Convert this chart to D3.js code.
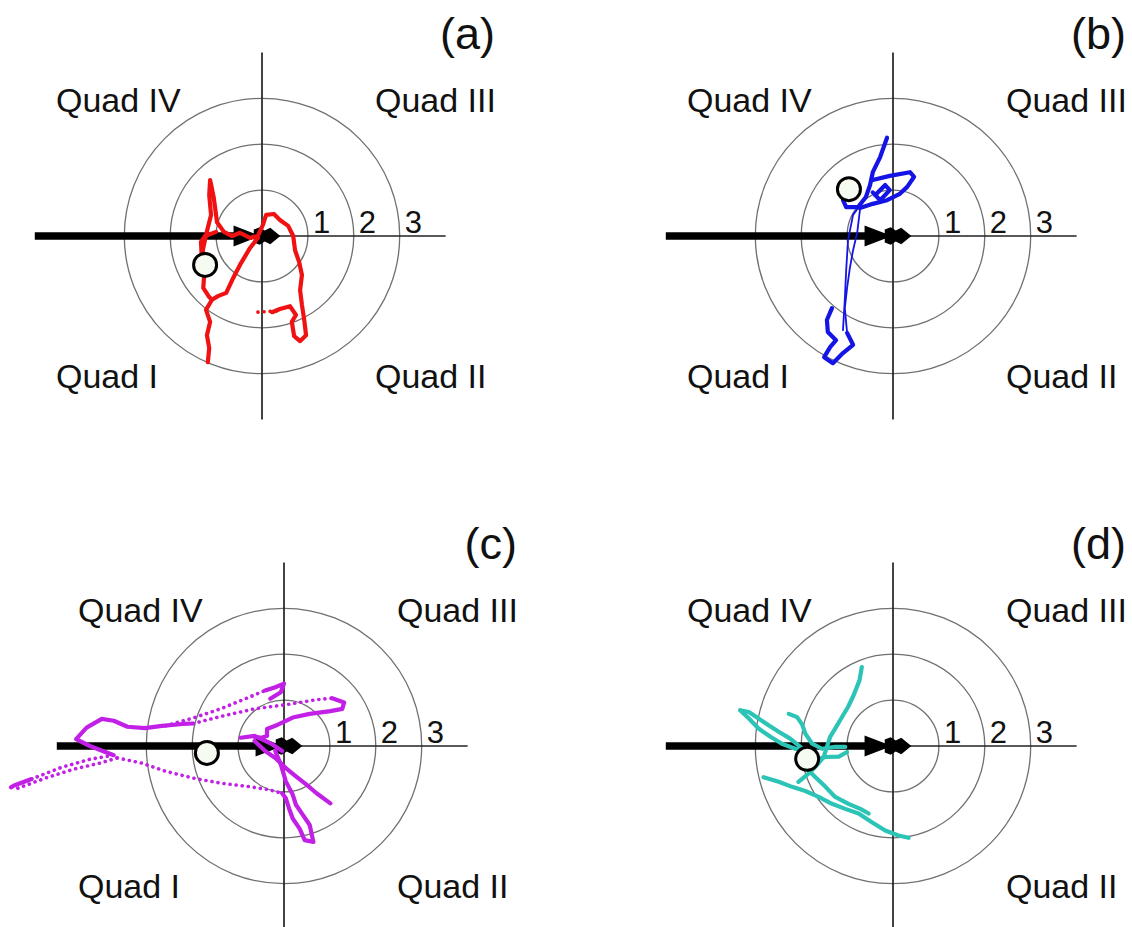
<!DOCTYPE html>
<html>
<head>
<meta charset="utf-8">
<script src="https://cdn.jsdelivr.net/npm/d3@7"></script>
<style>
  body { margin: 0; background: #fff; }
  text { font-family: "Liberation Sans", Arial, sans-serif; fill: #111; }
</style>
</head>
<body>
<div id="chart"></div>
<script>
// rings of the polar target and their labels
const ringValues = [1, 2, 3];
const panelLabels = ['(a)', '(b)', '(c)', '(d)'];

// quadrant names shown in each panel (panel d has no "Quad I")
const quadsA = ['Quad IV', 'Quad III', 'Quad I', 'Quad II'];
const quadsB = ['Quad IV', 'Quad III', 'Quad I', 'Quad II'];
const quadsC = ['Quad IV', 'Quad III', 'Quad I', 'Quad II'];
const quadsD = ['Quad IV', 'Quad III', null, 'Quad II'];

// start positions (open circle), in ring units
const startA = [-1.24, -0.63];
const startB = [-0.96, 1.02];
const startC = [-1.68, -0.15];
const startD = [-1.87, -0.28];

// trajectories, ring units, one list of points per stroke
const pathA = [
  { kind: 'solid', pts: [[-1.24, -0.63], [-1.29, -0.31], [-1.22, 0.02], [-1.11, 0.46], [-1.15, 0.89], [-1.13, 1.22],
    [-1.05, 0.83], [-0.98, 0.30], [-0.83, 0.09], [-0.65, 0], [-0.48, 0.07], [-0.26, -0.04], [-0.09, 0],
    [0.02, 0.24], [0.09, 0.46], [0.26, 0.48], [0.39, 0.35], [0.57, 0.22], [0.68, 0], [0.72, -0.31],
    [0.81, -0.57], [0.87, -0.85], [0.83, -1.18], [0.87, -1.50], [0.92, -1.83], [0.96, -2.16], [0.83, -2.29],
    [0.70, -2.18], [0.65, -1.87], [0.74, -1.72], [0.61, -1.53], [0.39, -1.59], [0.22, -1.66]] },
  { kind: 'dots', pts: [[0.22, -1.66], [0.33, -1.63], [-0.11, -1.66]] },
  { kind: 'solid', pts: [[-1.00, 0.09], [-1.24, 0.0], [-1.33, -0.13], [-1.31, -0.50], [-1.26, -0.87], [-1.28, -1.13],
    [-1.15, -1.33], [-1.09, -1.39], [-1.22, -1.61], [-1.13, -1.87], [-1.20, -2.16], [-1.15, -2.44], [-1.18, -2.75]] },
  { kind: 'solid', pts: [[-0.09, -0.04], [-0.26, -0.26], [-0.48, -0.63], [-0.65, -0.96], [-0.78, -1.24],
    [-0.96, -1.31], [-1.09, -1.39]] }
];

const pathB = [
  { kind: 'solid', pts: [[-0.13, 2.14], [-0.28, 1.72], [-0.44, 1.39], [-0.50, 1.11], [-0.59, 0.85], [-0.76, 0.63],
    [-1.02, 0.63], [-1.09, 0.78]] },
  { kind: 'solid', pts: [[-0.44, 1.22], [-0.07, 1.31], [0.37, 1.39], [0.46, 1.29], [0.31, 1.07], [0.15, 0.92],
    [-0.13, 0.78], [-0.44, 0.70], [-0.72, 0.61]] },
  { kind: 'solid', pts: [[-0.39, 0.89], [-0.17, 1.11], [-0.07, 1.00], [-0.28, 0.78], [-0.44, 0.95]] },
  { kind: 'thin', pts: [[-0.72, 0.57], [-0.78, 0.07], [-0.87, -0.31], [-0.94, -0.70], [-1.00, -1.13], [-1.05, -1.57],
    [-1.00, -2.11]] },
  { kind: 'thin', pts: [[-0.59, 0.85], [-0.87, 0.46], [-0.98, -0.09], [-1.02, -0.74], [-1.05, -1.39], [-1.09, -2.05]] },
  { kind: 'solid', pts: [[-1.00, -2.11], [-0.87, -2.37], [-1.09, -2.55], [-1.31, -2.77], [-1.50, -2.64], [-1.37, -2.42],
    [-1.24, -2.27], [-1.42, -2.09], [-1.44, -1.83], [-1.33, -1.57]] }
];

const pathC = [
  { kind: 'solid', pts: [[-5.95, -0.90], [-5.88, -0.86], [-5.50, -0.72]] },
  { kind: 'dots', pts: [[-5.50, -0.72], [-5.35, -0.66], [-4.83, -0.46], [-4.23, -0.29], [-3.71, -0.20]] },
  { kind: 'dots', pts: [[-5.80, -0.92], [-5.20, -0.70], [-4.60, -0.51], [-4.00, -0.37], [-3.63, -0.26]] },
  { kind: 'solid', pts: [[-3.71, -0.20], [-4.23, 0], [-4.53, 0.15], [-4.30, 0.40], [-3.97, 0.59], [-3.71, 0.55],
    [-3.41, 0.42], [-3.03, 0.39], [-2.66, 0.44], [-2.21, 0.48], [-1.98, 0.49]] },
  { kind: 'dots', pts: [[-1.98, 0.49], [-1.31, 0.66], [-0.64, 0.81], [0.04, 0.90], [0.71, 1.01], [1.05, 1.04]] },
  { kind: 'solid', pts: [[1.05, 1.04], [1.31, 0.95], [1.27, 0.81], [1.01, 0.76], [0.56, 0.70], [0.19, 0.62],
    [-0.19, 0.44], [-0.37, 0.37], [-0.37, 0.22], [-0.49, 0.18], [-0.64, 0.20]] },
  { kind: 'dots', pts: [[-2.58, 0.44], [-1.98, 0.61], [-1.38, 0.81], [-0.79, 1.05], [-0.41, 1.21]] },
  { kind: 'solid', pts: [[-0.41, 1.21], [-0.19, 1.28], [0, 1.36], [-0.07, 1.17], [-0.30, 1.03]] },
  { kind: 'dots', pts: [[-3.63, -0.26], [-3.11, -0.37], [-2.58, -0.55], [-1.98, -0.70], [-1.38, -0.81],
    [-0.79, -0.88], [-0.34, -0.95], [-0.04, -1.03]] },
  { kind: 'solid', pts: [[-0.64, 0.11], [-0.41, -0.11], [-0.19, -0.26], [0.04, -0.48], [0.26, -0.66], [0.49, -0.84],
    [0.71, -1.03], [1.01, -1.25]] },
  { kind: 'solid', pts: [[-0.19, -0.11], [-0.07, -0.40], [0.04, -0.77], [0.19, -1.06], [0.26, -1.28], [0.41, -1.50],
    [0.56, -1.72], [0.64, -2.09], [0.45, -2.05], [0.34, -1.80], [0.19, -1.58], [0.11, -1.36], [0.04, -1.14], [-0.04, -1.03]] },
  { kind: 'solid', pts: [[-0.94, 0.18], [-0.64, 0.22], [-0.26, 0.04], [-0.04, -0.11]] }
];

const pathD = [
  { kind: 'solid', pts: [[-0.68, 1.72], [-0.73, 1.43], [-0.86, 1.10], [-0.98, 0.85], [-1.13, 0.60], [-1.26, 0.38],
    [-1.37, 0.20], [-1.44, -0.02], [-1.51, -0.24], [-1.66, -0.42], [-1.84, -0.60], [-2.06, -0.78]] },
  { kind: 'solid', pts: [[-3.33, 0.78], [-3.14, 0.74], [-2.93, 0.60], [-2.71, 0.45], [-2.49, 0.31], [-2.24, 0.16],
    [-2.02, -0.02], [-1.84, -0.13], [-2.13, -0.06], [-2.42, 0.05], [-2.67, 0.20], [-2.93, 0.38], [-3.14, 0.60], [-3.33, 0.78]] },
  { kind: 'solid', pts: [[-2.27, 0.70], [-2.09, 0.63], [-1.98, 0.47], [-1.91, 0.27], [-1.76, 0.05], [-1.55, -0.06],
    [-1.26, -0.02], [-1.04, -0.02]] },
  { kind: 'solid', pts: [[-2.82, -0.68], [-2.49, -0.78], [-2.20, -0.89], [-1.91, -0.98], [-1.62, -1.11], [-1.33, -1.26],
    [-1.04, -1.37], [-0.75, -1.47], [-0.46, -1.66], [-0.17, -1.84], [0.12, -1.95], [0.34, -2.00]] },
  { kind: 'solid', pts: [[-1.91, -0.46], [-1.69, -0.68], [-1.47, -0.89], [-1.26, -1.11], [-0.97, -1.26], [-0.71, -1.37],
    [-0.53, -1.47]] },
  { kind: 'solid', pts: [[-1.76, -0.31], [-1.47, -0.24], [-1.18, -0.23], [-1.00, -0.13]] }
];

// shape of the black heading arrow, ring units
const arrowTail = -4.95;
const arrowHead = [[-0.62, 0.23], [-0.08, 0.02], [-0.08, -0.02], [-0.62, -0.23]];
const arrowKnob = [[-0.18, 0.14], [-0.05, 0.19], [0.06, 0.12], [0.18, 0.18], [0.30, 0.08], [0.40, 0],
  [0.30, -0.08], [0.18, -0.18], [0.06, -0.12], [-0.05, -0.19], [-0.18, -0.14]];

const unit = 45.9; // px per ring
const width = 1132;
const height = 927;

const panels = [
  { label: panelLabels[0], cx: 262, cy: 236, quads: quadsA, start: startA, path: pathA, color: '#f01212' },
  { label: panelLabels[1], cx: 893, cy: 236, quads: quadsB, start: startB, path: pathB, color: '#1414e6' },
  { label: panelLabels[2], cx: 284, cy: 746, quads: quadsC, start: startC, path: pathC, color: '#c220e6' },
  { label: panelLabels[3], cx: 893, cy: 746, quads: quadsD, start: startD, path: pathD, color: '#2cc4b6' }
];

const svg = d3.select('#chart').append('svg')
  .attr('width', width)
  .attr('height', height);

panels.forEach(drawPanel);

function drawPanel(p) {
  const x = d3.scaleLinear().domain([0, 1]).range([p.cx, p.cx + unit]);
  const y = d3.scaleLinear().domain([0, 1]).range([p.cy, p.cy - unit]);
  const g = svg.append('g');

  // rings
  g.selectAll('circle.ring').data(ringValues).join('circle')
    .attr('class', 'ring')
    .attr('cx', x(0)).attr('cy', y(0))
    .attr('r', d => x(d) - x(0))
    .attr('fill', 'none')
    .attr('stroke', '#707070')
    .attr('stroke-width', 1.3);

  // axes
  g.append('line')
    .attr('x1', x(0)).attr('x2', x(0))
    .attr('y1', y(4)).attr('y2', y(-4))
    .attr('stroke', '#222').attr('stroke-width', 1.7);
  g.append('line')
    .attr('x1', x(-4)).attr('x2', x(4))
    .attr('y1', y(0)).attr('y2', y(0))
    .attr('stroke', '#222').attr('stroke-width', 1.7);

  // heading arrow
  g.append('line')
    .attr('x1', x(arrowTail)).attr('x2', x(-0.55))
    .attr('y1', y(0)).attr('y2', y(0))
    .attr('stroke', '#000').attr('stroke-width', 7.5);
  const poly = pts => pts.map(d => [x(d[0]), y(d[1])].join(',')).join(' ');
  g.append('polygon').attr('points', poly(arrowHead)).attr('fill', '#000');
  g.append('polygon').attr('points', poly(arrowKnob)).attr('fill', '#000');

  // ring labels
  g.selectAll('text.tick').data(ringValues).join('text')
    .attr('class', 'tick')
    .attr('x', d => x(d) + 5)
    .attr('y', y(0) - 3)
    .attr('font-size', 31)
    .text(d => d);

  // trajectory
  const line = d3.line().x(d => x(d[0])).y(d => y(d[1]));
  g.selectAll('path.traj').data(p.path).join('path')
    .attr('class', 'traj')
    .attr('d', d => line(d.pts))
    .attr('fill', 'none')
    .attr('stroke', p.color)
    .attr('stroke-linejoin', 'round')
    .attr('stroke-linecap', 'round')
    .attr('stroke-width', d => d.kind === 'thin' ? 1.8 : d.kind === 'dots' ? 3.6 : 4.2)
    .attr('stroke-dasharray', d => d.kind === 'dots' ? '0.1,6' : null);

  // start marker
  g.append('circle')
    .attr('cx', x(p.start[0])).attr('cy', y(p.start[1]))
    .attr('r', 11.5)
    .attr('fill', '#f6fbf1')
    .attr('stroke', '#000')
    .attr('stroke-width', 3);

  // quadrant labels
  const qx = [x(0) - 206, x(0) + 113, x(0) - 206, x(0) + 113];
  const qy = [y(0) - 124, y(0) - 124, y(0) + 152, y(0) + 152];
  p.quads.forEach((q, i) => {
    if (!q) return;
    g.append('text')
      .attr('x', qx[i]).attr('y', qy[i])
      .attr('font-size', 34)
      .text(q);
  });

  // panel label
  g.append('text')
    .attr('x', x(0) + 233).attr('y', y(0) - 187)
    .attr('text-anchor', 'end')
    .attr('font-size', 45)
    .text(p.label);
}
</script>
</body>
</html>
